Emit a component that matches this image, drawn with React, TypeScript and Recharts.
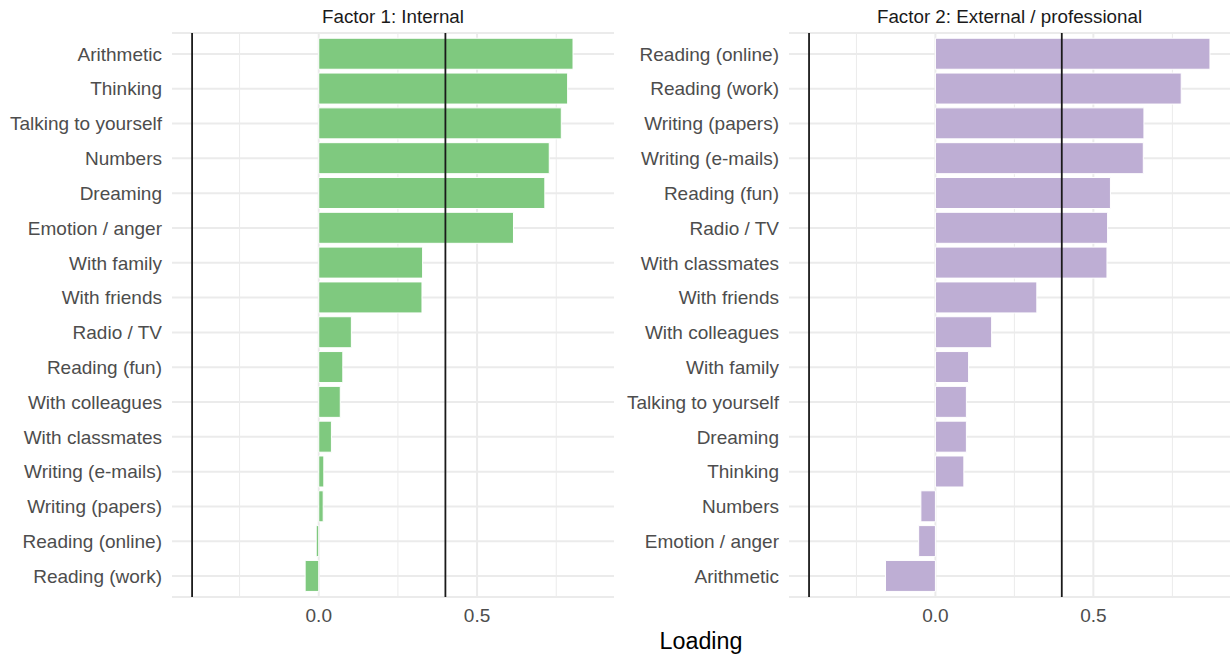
import React from 'react';
import { BarChart, Bar, XAxis, YAxis, CartesianGrid, ReferenceLine } from 'recharts';

const factor1Items = [
  'Arithmetic', 'Thinking', 'Talking to yourself', 'Numbers', 'Dreaming', 'Emotion / anger',
  'With family', 'With friends', 'Radio / TV', 'Reading (fun)', 'With colleagues',
  'With classmates', 'Writing (e-mails)', 'Writing (papers)', 'Reading (online)', 'Reading (work)',
];
const factor1Loadings = [0.803, 0.786, 0.766, 0.728, 0.714, 0.615, 0.328, 0.326, 0.103, 0.076, 0.068, 0.04, 0.016, 0.014, -0.008, -0.043];

const factor2Items = [
  'Reading (online)', 'Reading (work)', 'Writing (papers)', 'Writing (e-mails)', 'Reading (fun)',
  'Radio / TV', 'With classmates', 'With friends', 'With colleagues', 'With family',
  'Talking to yourself', 'Dreaming', 'Thinking', 'Numbers', 'Emotion / anger', 'Arithmetic',
];
const factor2Loadings = [0.869, 0.778, 0.66, 0.658, 0.554, 0.545, 0.543, 0.321, 0.178, 0.105, 0.098, 0.098, 0.09, -0.046, -0.053, -0.158];

const facetTitles = ['Factor 1: Internal', 'Factor 2: External / professional'];
const cutoffs = [-0.4, 0.4];
const majorBreaks = [0, 0.5];
const minorBreaks = [-0.25, 0.25, 0.75];
const xTitle = 'Loading';

const FONT = '"Liberation Sans", Arial, Helvetica, sans-serif';

const data1 = factor1Items.map((name, i) => ({ name, value: factor1Loadings[i] }));
const data2 = factor2Items.map((name, i) => ({ name, value: factor2Loadings[i] }));

const allVals = [...factor1Loadings, ...factor2Loadings, ...cutoffs];
const vmin = Math.min(...allVals);
const vmax = Math.max(...allVals);
const pad = (vmax - vmin) * 0.05;
const domain: [number, number] = [vmin - pad, vmax + pad];

type PanelProps = {
  data: { name: string; value: number }[];
  color: string;
  left: number;
  width: number;
  marginRight: number;
};

function Panel({ data, color, left, width, marginRight }: PanelProps) {
  return (
    <div style={{ position: 'absolute', left, top: 0 }}>
      <BarChart
        width={width}
        height={655}
        data={data}
        layout="vertical"
        margin={{ top: 33, right: marginRight, bottom: 28, left: 0 }}
        barCategoryGap="5%"
      >
        <CartesianGrid vertical={false} stroke="#EBEBEB" strokeWidth={2} />
        {minorBreaks.map((v) => (
          <ReferenceLine key={'mi' + v} x={v} stroke="#EBEBEB" strokeWidth={1} zIndex={-50} />
        ))}
        {majorBreaks.map((v) => (
          <ReferenceLine key={'ma' + v} x={v} stroke="#EBEBEB" strokeWidth={2} zIndex={-50} />
        ))}
        <XAxis
          type="number"
          domain={domain}
          allowDataOverflow
          ticks={majorBreaks}
          tickFormatter={(v: number) => v.toFixed(1)}
          axisLine={false}
          tickLine={false}
          tickSize={0}
          tickMargin={12}
          height={30}
          tick={{ fill: '#4D4D4D', fontSize: 19, fontFamily: FONT }}
        />
        <YAxis
          type="category"
          dataKey="name"
          width={172}
          axisLine={false}
          tickLine={false}
          tickSize={0}
          tickMargin={10}
          interval={0}
          padding={{ top: 3.5, bottom: 3.5 }}
          tick={{ fill: '#4D4D4D', fontSize: 19, fontFamily: FONT }}
        />
        <Bar dataKey="value" fill={color} stroke="#FFFFFF" strokeWidth={1} isAnimationActive={false} />
        {cutoffs.map((v) => (
          <ReferenceLine key={'c' + v} x={v} stroke="#1A1A1A" strokeWidth={1.8} />
        ))}
      </BarChart>
    </div>
  );
}

export default function App() {
  return (
    <div style={{ position: 'absolute', left: 0, top: 0, width: 1230, height: 655, background: '#fff', overflow: 'hidden' }}>
      <Panel data={data1} color="#7FC97F" left={0} width={620} marginRight={6} />
      <Panel data={data2} color="#BEAED4" left={617} width={613} marginRight={0} />
      <svg width={1230} height={655} style={{ position: 'absolute', left: 0, top: 0, pointerEvents: 'none' }}>
        <text x={393} y={22.7} textAnchor="middle" fontFamily={FONT} fontSize={18.8} fill="#1A1A1A">
          {facetTitles[0]}
        </text>
        <text x={1009.5} y={22.7} textAnchor="middle" fontFamily={FONT} fontSize={18.8} fill="#1A1A1A">
          {facetTitles[1]}
        </text>
        <text x={701} y={649.3} textAnchor="middle" fontFamily={FONT} fontSize={23.3} fill="#000000">
          {xTitle}
        </text>
      </svg>
    </div>
  );
}
